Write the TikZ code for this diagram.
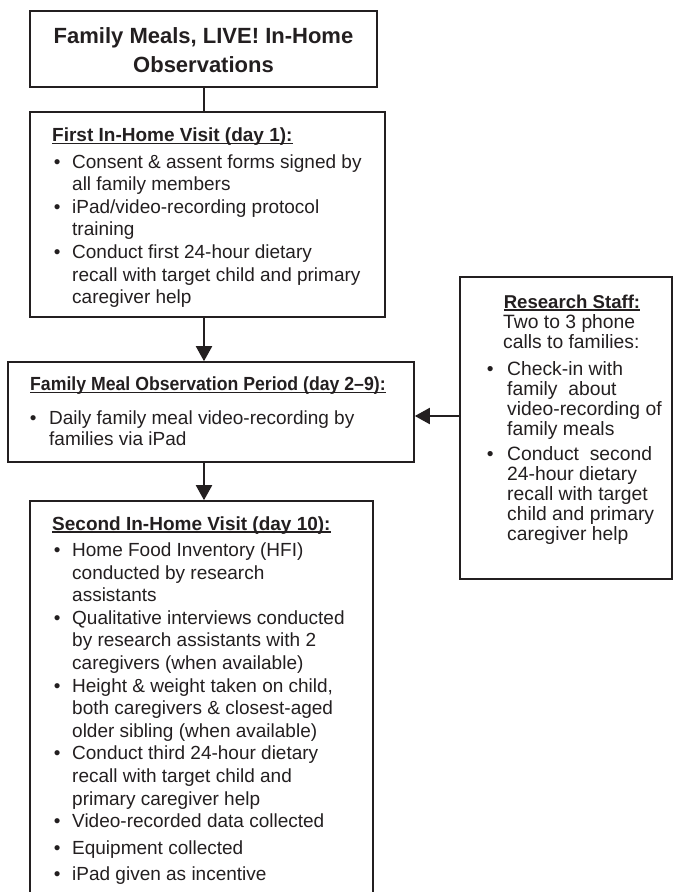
\documentclass[tikz,border=0pt]{standalone}
\usepackage{fontspec}
\usepackage{graphicx}
\setmainfont{Liberation Sans}
\usetikzlibrary{arrows.meta}
\definecolor{ink}{HTML}{231F20}
\newsavebox\ulbox
\newcommand\ulh[1]{\sbox\ulbox{#1}\rlap{\rule[-2.6pt]{\wd\ulbox}{1.5pt}}\usebox\ulbox}
\newcommand\bt{\makebox[20pt][l]{\hspace{1.7pt}\textbullet}}
\newcommand\btf{\makebox[19pt][l]{\hspace{-0.3pt}\textbullet}}
\newcommand\btr{\makebox[20.3pt][l]{\textbullet}}
\newcommand\bodyfont{\fontsize{19pt}{22.6pt}\selectfont}
\begin{document}
\begin{tikzpicture}[x=1pt,y=-1pt,
  box/.style={draw=ink, line width=1.6pt, inner sep=0pt, fill=none},
  txt/.style={anchor=base west, inner sep=0pt, text=ink},
  link/.style={draw=ink, line width=2pt},
  arr/.style={draw=ink, line width=2pt, -{Triangle[length=15pt,width=16pt]}}]
\useasboundingbox (0,0) rectangle (674,892);
% boxes
\node[box, minimum width=347pt, minimum height=76pt] (title) at (203.5,49) {};
\node[box, minimum width=355pt, minimum height=205pt] (first) at (207.5,214.5) {};
\node[box, minimum width=406pt, minimum height=100pt] (fam) at (211,412) {};
\node[box, minimum width=343pt, minimum height=399pt] (second) at (201.5,700.5) {};
\node[box, minimum width=212pt, minimum height=302pt] (staff) at (566,428) {};
% connectors
\coordinate (axis) at (204,0);
\draw[link] (axis |- title.south) -- (axis |- first.north);
\draw[arr] (axis |- first.south) -- (axis |- fam.north);
\draw[arr] (axis |- fam.south) -- (axis |- second.north);
\coordinate (sa) at ([yshift=12pt]staff.west);
\draw[arr] (sa) -- (fam.east |- sa);
% title text
\node[anchor=base, inner sep=0pt, text=ink, font=\fontsize{22pt}{29pt}\selectfont\bfseries] (titletext) at (203.5,43)
  {\begin{tabular}[t]{@{}c@{}}Family Meals, LIVE! In-Home\\Observations\end{tabular}};
% first visit
\node[txt, font=\bodyfont] (firsttext) at (52,141.5) {\begin{tabular}[t]{@{}l@{}l@{}}
\multicolumn{2}{@{}l@{}}{\bfseries\ulh{First In-Home Visit (day 1):}}\\[3.9pt]
\bt & Consent \& assent forms signed by\\
 & all family members\\
\bt & iPad/video-recording protocol\\
 & training\\
\bt & Conduct first 24-hour dietary\\
 & recall with target child and primary\\
 & caregiver help
\end{tabular}};
% observation period
\node[txt, font=\fontsize{19pt}{21.5pt}\selectfont] (famtext) at (30,390.5) {\begin{tabular}[t]{@{}l@{}l@{}}
\multicolumn{2}{@{}l@{}}{\bfseries\ulh{\scalebox{0.93}[1]{Family Meal Observation Period (day 2–9):}}}\\[12pt]
\btf & Daily family meal video-recording by\\
 & families via iPad
\end{tabular}};
% second visit
\node[txt, font=\bodyfont] (secondtext) at (52,530) {\begin{tabular}[t]{@{}l@{}l@{}}
\multicolumn{2}{@{}l@{}}{\bfseries\ulh{Second In-Home Visit (day 10):}}\\[3.9pt]
\bt & Home Food Inventory (HFI)\\
 & conducted by research\\
 & assistants\\
\bt & Qualitative interviews conducted\\
 & by research assistants with 2\\
 & caregivers (when available)\\
\bt & Height \& weight taken on child,\\
 & both caregivers \& closest-aged\\
 & older sibling (when available)\\
\bt & Conduct third 24-hour dietary\\
 & recall with target child and\\
 & primary caregiver help\\
\bt & Video-recorded data collected\\[4.4pt]
\bt & Equipment collected\\[3.4pt]
\bt & iPad given as incentive
\end{tabular}};
% research staff
\node[anchor=base, inner sep=0pt, text=ink, font=\fontsize{18.6pt}{20pt}\selectfont\bfseries] (stafhead) at (572,308) {\ulh{Research Staff:}};
\node[txt, font=\fontsize{19.3pt}{20pt}\selectfont] (stafintro) at (503,328) {\begin{tabular}[t]{@{}l@{}}
Two to 3 phone\\
calls to families:
\end{tabular}};
\node[txt, font=\fontsize{19.3pt}{20pt}\selectfont] (staflist) at (486.7,375) {\begin{tabular}[t]{@{}l@{}l@{}}
\btr & Check-in with\\
 & family\ \ about\\
 & video-recording of\\
 & family meals\\[5pt]
\btr & Conduct\ \ second\\
 & 24-hour dietary\\
 & recall with target\\
 & child and primary\\
 & caregiver help
\end{tabular}};
\end{tikzpicture}
\end{document}
